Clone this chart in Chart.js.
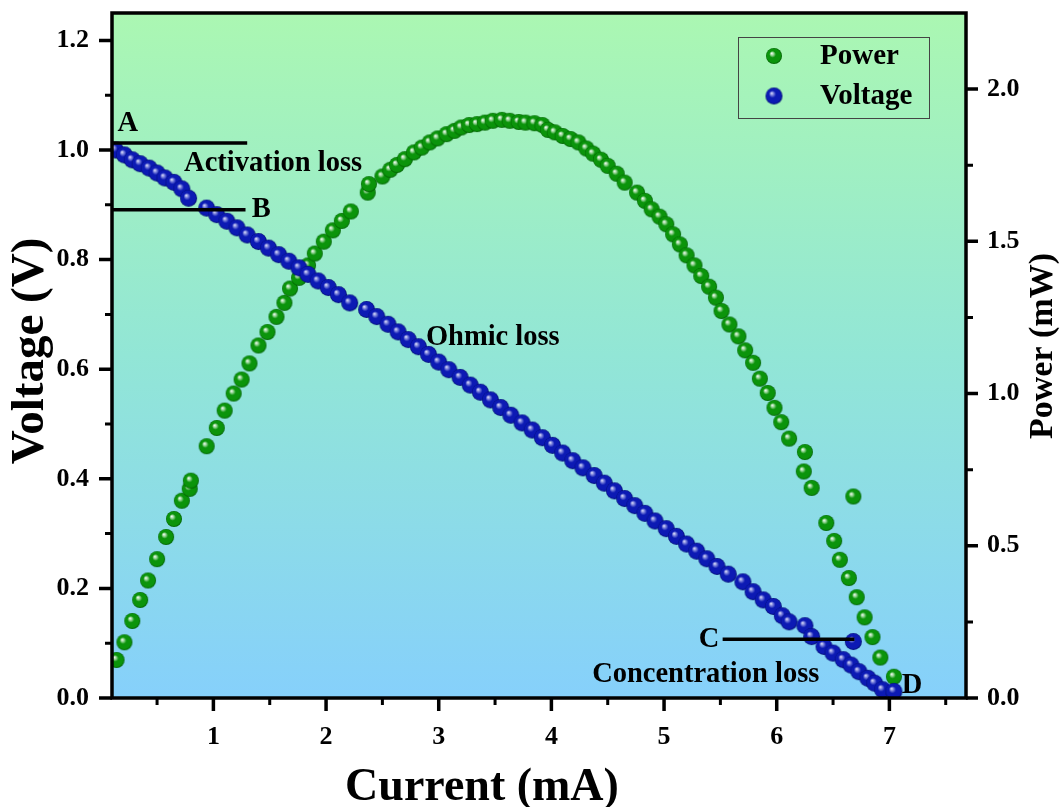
<!DOCTYPE html>
<html>
<head>
<meta charset="utf-8">
<script src="https://cdn.jsdelivr.net/npm/chart.js@4.4.1/dist/chart.umd.min.js"></script>
<style>
  html, body { margin: 0; padding: 0; background: #fff; }
</style>
</head>
<body>
<canvas id="chart" width="1060" height="807"></canvas>
<script>
// values
const voltageCurrent = [
  0.13, 0.21, 0.28, 0.35, 0.43, 0.50, 0.57, 0.65, 0.72, 0.78,
  0.94, 1.03, 1.12, 1.21, 1.30, 1.40, 1.49, 1.58, 1.67, 1.76, 1.84, 1.93, 2.02, 2.11, 2.21,
  2.36, 2.45, 2.55, 2.64, 2.73, 2.82, 2.91, 3.00, 3.09, 3.19, 3.28, 3.37, 3.46, 3.55, 3.64,
  3.74, 3.83, 3.92, 4.01, 4.10, 4.19, 4.28, 4.38, 4.47, 4.56, 4.65, 4.74, 4.83, 4.92, 5.02,
  5.11, 5.20, 5.29, 5.38, 5.47, 5.57,
  5.70, 5.79, 5.88, 5.97, 6.05, 6.11, 6.25, 6.31, 6.42, 6.50, 6.59, 6.66, 6.68, 6.73, 6.81,
  6.87, 6.94, 7.04
];
const voltageValues = [
  1.000, 0.991, 0.982, 0.975, 0.967, 0.958, 0.949, 0.941, 0.929, 0.912,
  0.894, 0.882, 0.870, 0.858, 0.845, 0.833, 0.821, 0.809, 0.797, 0.785, 0.773, 0.761, 0.749, 0.736, 0.721,
  0.709, 0.696, 0.682, 0.668, 0.654, 0.641, 0.627, 0.613, 0.599, 0.585, 0.571, 0.558, 0.544, 0.530, 0.516,
  0.502, 0.489, 0.475, 0.461, 0.447, 0.433, 0.420, 0.406, 0.392, 0.378, 0.364, 0.351, 0.337, 0.323, 0.309,
  0.295, 0.281, 0.268, 0.254, 0.240, 0.226,
  0.212, 0.194, 0.179, 0.167, 0.150, 0.139, 0.132, 0.112, 0.094, 0.082, 0.070, 0.060, 0.103, 0.048, 0.036,
  0.027, 0.015, 0.012
];

const powerCurrent = [
  0.14, 0.21, 0.28, 0.35, 0.42, 0.50, 0.58, 0.65, 0.72, 0.79, 0.80, 0.94, 1.03, 1.10, 1.18,
  1.25, 1.32, 1.40, 1.48, 1.56, 1.63, 1.68, 1.76, 1.84, 1.90, 1.98, 2.06, 2.14, 2.22, 2.37, 2.38,
  2.50, 2.57, 2.63, 2.70, 2.78, 2.85, 2.92, 2.99, 3.07, 3.14, 3.20, 3.27, 3.34, 3.41, 3.48,
  3.56, 3.63, 3.71, 3.77, 3.85, 3.92, 3.97, 4.03, 4.10, 4.17, 4.24, 4.31, 4.37, 4.44, 4.50, 4.58,
  4.65, 4.76, 4.83, 4.89, 4.96, 5.02, 5.08, 5.14, 5.20, 5.27, 5.33, 5.40, 5.46, 5.51, 5.58,
  5.66, 5.72, 5.79, 5.85, 5.92, 5.98, 6.04, 6.11, 6.25, 6.24, 6.31, 6.44, 6.51, 6.56, 6.64,
  6.68, 6.71, 6.78, 6.85, 6.92, 7.04
];
const powerValues = [
  0.125, 0.183, 0.253, 0.322, 0.386, 0.456, 0.529, 0.588, 0.648, 0.687, 0.714, 0.827, 0.887, 0.944, 1.000,
  1.046, 1.099, 1.158, 1.202, 1.252, 1.298, 1.345, 1.380, 1.421, 1.460, 1.499, 1.536, 1.567, 1.598, 1.660, 1.688,
  1.713, 1.735, 1.751, 1.770, 1.792, 1.808, 1.825, 1.838, 1.852, 1.863, 1.874, 1.882, 1.885, 1.890, 1.896,
  1.899, 1.896, 1.892, 1.890, 1.888, 1.882, 1.866, 1.858, 1.846, 1.836, 1.825, 1.805, 1.788, 1.768, 1.748, 1.722,
  1.693, 1.660, 1.633, 1.605, 1.581, 1.556, 1.523, 1.490, 1.454, 1.421, 1.386, 1.351, 1.315, 1.271, 1.227,
  1.188, 1.142, 1.101, 1.049, 1.002, 0.953, 0.906, 0.852, 0.808, 0.744, 0.690, 0.575, 0.516, 0.454, 0.394,
  0.662, 0.331, 0.265, 0.200, 0.133, 0.070
];

const currentTicks = [1, 2, 3, 4, 5, 6, 7];
const currentMinor = [0.5, 1.5, 2.5, 3.5, 4.5, 5.5, 6.5, 7.5];
const voltageTicks = [0, 0.2, 0.4, 0.6, 0.8, 1.0, 1.2];
const voltageMinor = [0.1, 0.3, 0.5, 0.7, 0.9, 1.1];
const powerTicks = [0, 0.5, 1.0, 1.5, 2.0];
const powerMinor = [0.25, 0.75, 1.25, 1.75];

// region markers and notes, in data units of current / voltage
const guideLines = [
  { x0: 0.1, x1: 1.30, v: 1.013 },
  { x0: 0.1, x1: 1.285, v: 0.891 },
  { x0: 5.52, x1: 6.69, v: 0.107 }
];
const notes = [
  { text: "A", x: 0.24, v: 1.049 },
  { text: "Activation loss", x: 1.53, v: 0.976 },
  { text: "B", x: 1.425, v: 0.891 },
  { text: "Ohmic loss", x: 3.48, v: 0.658 },
  { text: "C", x: 5.40, v: 0.107 },
  { text: "Concentration loss", x: 5.37, v: 0.042 },
  { text: "D", x: 7.20, v: 0.022 }
];

const SERIF = "'Liberation Serif', 'Times New Roman', serif";

function makeBall(r, shine, mid, body, edge) {
  const size = r * 2 + 2;
  const c = document.createElement("canvas");
  c.width = size;
  c.height = size;
  const g = c.getContext("2d");
  const cx = size / 2, cy = size / 2;
  const grad = g.createRadialGradient(cx - r * 0.3, cy - r * 0.35, 0, cx, cy, r);
  grad.addColorStop(0, shine);
  grad.addColorStop(0.2, mid);
  grad.addColorStop(0.42, body);
  grad.addColorStop(0.85, body);
  grad.addColorStop(1, edge);
  g.fillStyle = grad;
  g.beginPath();
  g.arc(cx, cy, r, 0, Math.PI * 2);
  g.fill();
  return c;
}

const greenBall = makeBall(8, "#ffffff", "#9ad69a", "#0b940b", "#005c00");
const blueBall = makeBall(8.5, "#eeeeff", "#7c84dc", "#0c1ab4", "#000a6a");

function toPoints(xs, ys) {
  return xs.map((x, i) => ({ x, y: ys[i] }));
}

const background = {
  id: "background",
  beforeDraw(chart) {
    const { ctx, chartArea: a } = chart;
    ctx.save();
    ctx.fillStyle = "#fff";
    ctx.fillRect(0, 0, chart.width, chart.height);
    const grad = ctx.createLinearGradient(0, a.top, 0, a.bottom);
    grad.addColorStop(0, "#abf7b2");
    grad.addColorStop(0.5, "#92e6d6");
    grad.addColorStop(1, "#86d0fb");
    ctx.fillStyle = grad;
    ctx.fillRect(a.left, a.top, a.right - a.left, a.bottom - a.top);
    ctx.restore();
  }
};

function drawTicks(ctx, list, scale, a, side, len) {
  for (const v of list) {
    const p = scale.getPixelForValue(v);
    if (side === "bottom") { ctx.moveTo(p, a.bottom); ctx.lineTo(p, a.bottom + len); }
    if (side === "left") { ctx.moveTo(a.left, p); ctx.lineTo(a.left - len, p); }
    if (side === "right") { ctx.moveTo(a.right, p); ctx.lineTo(a.right + len, p); }
  }
}

const decorations = {
  id: "decorations",
  afterDraw(chart) {
    const { ctx, chartArea: a, scales } = chart;
    const xs = scales.x, ys = scales.y, ps = scales.y2;
    ctx.save();

    // frame
    ctx.strokeStyle = "#000";
    ctx.lineWidth = 3.5;
    ctx.strokeRect(a.left, a.top, a.right - a.left, a.bottom - a.top);

    // major and minor ticks
    ctx.lineWidth = 3.5;
    ctx.beginPath();
    drawTicks(ctx, currentTicks, xs, a, "bottom", 13);
    drawTicks(ctx, voltageTicks, ys, a, "left", 13);
    drawTicks(ctx, powerTicks, ps, a, "right", 12);
    ctx.stroke();
    ctx.lineWidth = 3;
    ctx.beginPath();
    drawTicks(ctx, currentMinor, xs, a, "bottom", 7);
    drawTicks(ctx, voltageMinor, ys, a, "left", 7);
    drawTicks(ctx, powerMinor, ps, a, "right", 7);
    ctx.stroke();

    // guide lines
    ctx.lineWidth = 3.5;
    ctx.beginPath();
    for (const l of guideLines) {
      const py = ys.getPixelForValue(l.v);
      ctx.moveTo(xs.getPixelForValue(l.x0), py);
      ctx.lineTo(xs.getPixelForValue(l.x1), py);
    }
    ctx.stroke();

    // notes
    ctx.fillStyle = "#000";
    ctx.font = "bold 28.5px " + SERIF;
    ctx.textAlign = "center";
    ctx.textBaseline = "middle";
    for (const n of notes) {
      ctx.fillText(n.text, xs.getPixelForValue(n.x), ys.getPixelForValue(n.v));
    }

    // legend
    const lx = 738, ly = 37, lw = 191, lh = 81;
    ctx.strokeStyle = "#444";
    ctx.lineWidth = 1;
    ctx.strokeRect(lx + 0.5, ly + 0.5, lw, lh);
    const items = chart.data.datasets.map(d => ({ label: d.label, img: d.pointStyle }));
    ctx.font = "bold 29px " + SERIF;
    ctx.textAlign = "left";
    items.forEach((it, i) => {
      const cy = 56 + i * 40;
      ctx.drawImage(it.img, 774 - it.img.width / 2, cy - it.img.height / 2);
      ctx.fillText(it.label, 820, cy + 1);
    });

    // axis titles
    ctx.font = "bold 46px " + SERIF;
    ctx.textAlign = "center";
    ctx.textBaseline = "middle";
    ctx.fillText("Current (mA)", 482, 788);
    ctx.save();
    ctx.font = "bold 47px " + SERIF;
    ctx.translate(31, 351);
    ctx.rotate(-Math.PI / 2);
    ctx.fillText("Voltage (V)", 0, 0);
    ctx.restore();
    ctx.save();
    ctx.font = "bold 34px " + SERIF;
    ctx.translate(1043, 346);
    ctx.rotate(-Math.PI / 2);
    ctx.fillText("Power (mW)", 0, 0);
    ctx.restore();

    ctx.restore();
  }
};

const tickFont = { family: SERIF, size: 26, weight: "bold" };
const hiddenGrid = { drawOnChartArea: false, tickLength: 13, tickColor: "rgba(0,0,0,0)" };

function fixWidth(w) {
  return s => { s.width = w; s.paddingTop = 0; s.paddingBottom = 0; };
}

const chart = new Chart(document.getElementById("chart"), {
  type: "scatter",
  data: {
    datasets: [
      {
        label: "Power",
        data: toPoints(powerCurrent, powerValues),
        yAxisID: "y2",
        pointStyle: greenBall,
        pointRadius: 8,
        order: 1
      },
      {
        label: "Voltage",
        data: toPoints(voltageCurrent, voltageValues),
        yAxisID: "y",
        pointStyle: blueBall,
        pointRadius: 8,
        order: 0
      }
    ]
  },
  options: {
    responsive: false,
    animation: false,
    layout: { padding: { top: 13, left: 0, right: 0, bottom: 0 } },
    plugins: {
      legend: { display: false },
      tooltip: { enabled: false }
    },
    scales: {
      x: {
        type: "linear",
        position: "bottom",
        min: 0.1,
        max: 7.68,
        afterBuildTicks: s => { s.ticks = currentTicks.map(v => ({ value: v })); },
        afterFit: s => { s.height = 109; s.paddingLeft = 0; s.paddingRight = 0; },
        grid: hiddenGrid,
        border: { display: false },
        ticks: { font: tickFont, color: "#000", padding: 11, maxRotation: 0, callback: v => String(v) }
      },
      y: {
        position: "left",
        min: 0,
        max: 1.25,
        afterBuildTicks: s => { s.ticks = voltageTicks.map(v => ({ value: v })); },
        afterFit: fixWidth(112),
        grid: hiddenGrid,
        border: { display: false },
        ticks: { font: tickFont, color: "#000", padding: 10, callback: v => Number(v).toFixed(1) }
      },
      y2: {
        position: "right",
        min: 0,
        max: 2.25,
        afterBuildTicks: s => { s.ticks = powerTicks.map(v => ({ value: v })); },
        afterFit: fixWidth(94),
        grid: hiddenGrid,
        border: { display: false },
        ticks: { font: tickFont, color: "#000", padding: 8, callback: v => Number(v).toFixed(1) }
      }
    }
  },
  plugins: [background, decorations]
});
</script>
</body>
</html>
